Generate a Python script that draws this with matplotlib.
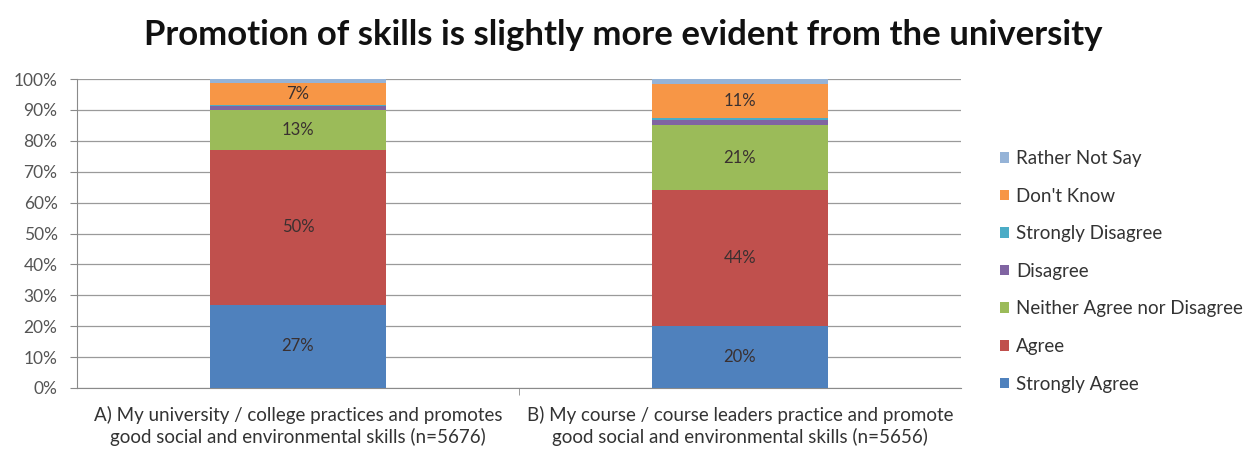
import matplotlib
matplotlib.use("Agg")
import matplotlib.pyplot as plt
import numpy as np

plt.rcParams['font.family'] = ['Lato', 'DejaVu Sans']

categories = [
    "A) My university / college practices and promotes\ngood social and environmental skills (n=5676)",
    "B) My course / course leaders practice and promote\ngood social and environmental skills (n=5656)",
]
series_names = ["Strongly Agree", "Agree", "Neither Agree nor Disagree",
                "Disagree", "Strongly Disagree", "Don't Know", "Rather Not Say"]
strongly_agree = [27, 20]
agree = [50, 44]
neither = [13, 21]
disagree = [1.3, 1.8]
strongly_disagree = [0.4, 0.5]
dont_know = [7, 11]
rather_not_say = [1.3, 1.7]
labelled = {"Strongly Agree", "Agree", "Neither Agree nor Disagree", "Don't Know"}

colors = ["#4F81BD", "#C0504D", "#9BBB59", "#8064A2", "#4BACC6", "#F79646", "#95B3D7"]
series = [strongly_agree, agree, neither, disagree, strongly_disagree, dont_know, rather_not_say]

fig = plt.figure(figsize=(12.47, 4.55), dpi=100)
ax = fig.add_axes([77 / 1247, 1 - 388 / 455, (961 - 77) / 1247, (388 - 79) / 455])

x = np.arange(len(categories))
bottom = np.zeros(len(categories))
handles = []
for name, vals, col in zip(series_names, series, colors):
    vals = np.array(vals, dtype=float)
    h = ax.bar(x, vals / 100, 0.4, bottom=bottom / 100, color=col, label=name, zorder=3)
    handles.append(h)
    if name in labelled:
        for xi, v, b in zip(x, vals, bottom):
            ax.text(xi, (b + v / 2) / 100, f"{v:.0f}%", ha="center", va="center",
                    fontsize=12, color="#3a3030", zorder=4)
    bottom += vals

ax.set_xlim(-0.5, 1.5)
ax.set_ylim(0, 1)
ax.set_yticks(np.arange(0, 1.01, 0.1))
ax.set_yticklabels([f"{int(round(t * 100))}%" for t in np.arange(0, 1.01, 0.1)],
                   fontsize=12.5, color="#555555")
ax.yaxis.grid(True, color="#9a9a9a", linewidth=0.9, zorder=0)
ax.set_xticks(x)
ax.set_xticklabels(categories, fontsize=13.5, color="#333333", linespacing=1.25)
ax.set_xticks([0.5], minor=True)
ax.tick_params(axis="x", which="major", length=0, pad=13)
ax.tick_params(axis="x", which="minor", length=5, color="#8a8a8a")
ax.tick_params(axis="y", length=5, color="#8a8a8a", pad=9)
for s in ["top", "right"]:
    ax.spines[s].set_visible(False)
for s in ["left", "bottom"]:
    ax.spines[s].set_color("#8a8a8a")

leg = fig.legend(handles[::-1], series_names[::-1], loc="upper left",
                 bbox_to_anchor=(983 / 1247, 1 - 133 / 455), frameon=False,
                 fontsize=13.5, handlelength=0.5, handleheight=0.5, handletextpad=0.35,
                 labelspacing=1.1, labelcolor="#333333")

fig.text(0.5, 1 - 35 / 455, "Promotion of skills is slightly more evident from the university",
         ha="center", va="center", fontsize=25, fontweight="bold", color="#111111")

fig.savefig("out.png", dpi=100, facecolor="white")
